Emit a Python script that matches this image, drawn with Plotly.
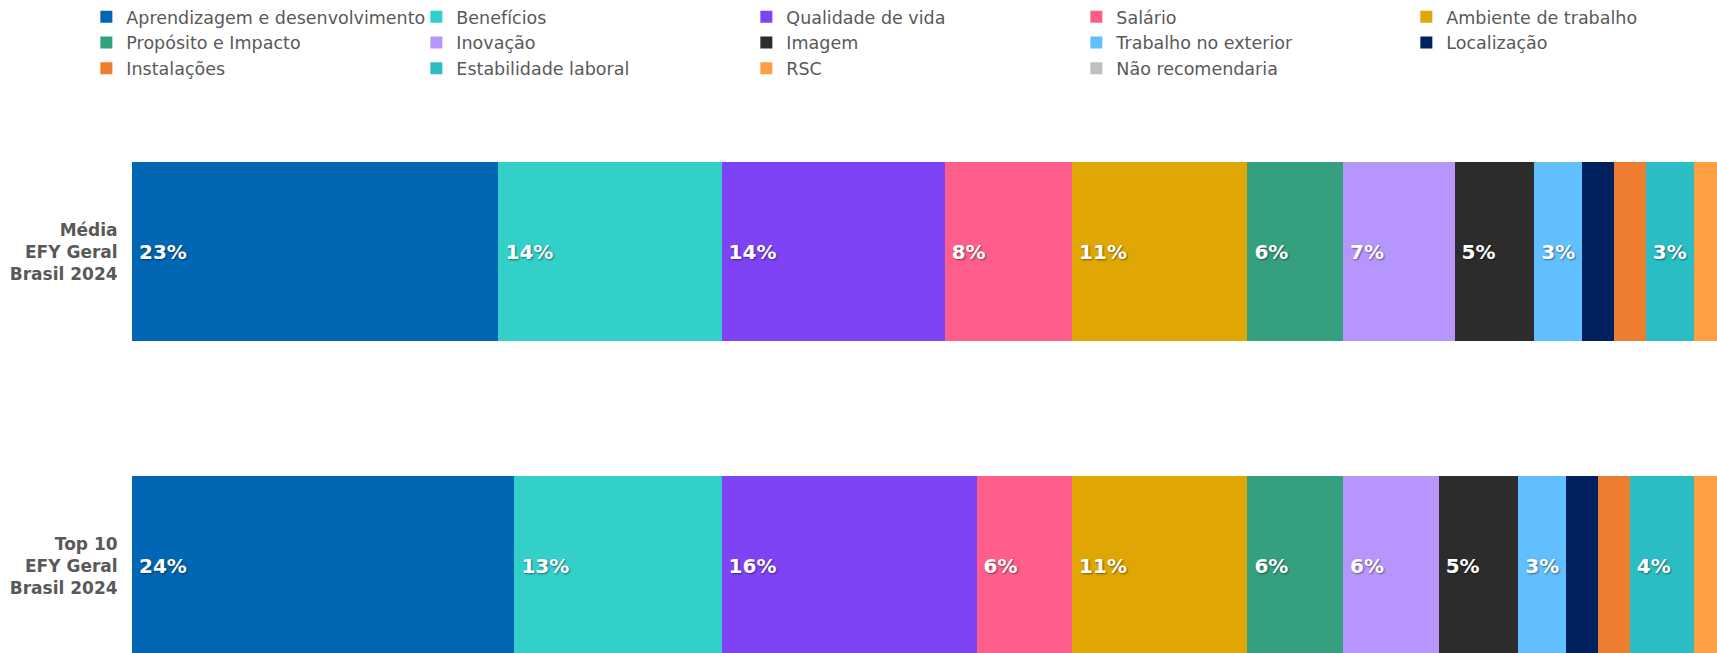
import plotly.graph_objects as go

categories = ["Média<br>EFY Geral<br>Brasil 2024", "Top 10<br>EFY Geral<br>Brasil 2024"]

series_names = [
    "Aprendizagem e desenvolvimento", "Benefícios", "Qualidade de vida", "Salário",
    "Ambiente de trabalho", "Propósito e Impacto", "Inovação", "Imagem",
    "Trabalho no exterior", "Localização", "Instalações", "Estabilidade laboral",
    "RSC", "Não recomendaria",
]
series_colors = [
    "#0167B4", "#33CFC9", "#7E43F4", "#FF5E8B",
    "#E0A603", "#35A07F", "#B696FD", "#2C2C2C",
    "#62BFFE", "#002060", "#ED7D31", "#2ABEC4",
    "#FF9E42", "#BFBFBF",
]
media_values = [23, 14, 14, 8, 11, 6, 7, 5, 3, 2, 2, 3, 2, 0]
top10_values = [24, 13, 16, 6, 11, 6, 6, 5, 3, 2, 2, 4, 2, 0]

FONT = "DejaVu Sans"
GRAY = "#595959"
LABEL_MIN = 3

fig = go.Figure()
for name, color, a, b in zip(series_names, series_colors, media_values, top10_values):
    vals = [a, b]
    texts = [("\u2009%d%%" % v) if v >= LABEL_MIN else "" for v in vals]
    fig.add_trace(go.Bar(
        y=categories, x=vals, orientation="h", name=name,
        marker=dict(color=color, line=dict(width=0)),
        text=texts, textposition="inside", insidetextanchor="start",
        constraintext="none",
        textfont=dict(family=FONT, size=20, color="white", weight="bold",
                      shadow="1px 1px 2px rgba(0,0,0,0.45)"),
        hoverinfo="name+x",
    ))

fig.update_layout(
    barmode="stack",
    bargap=0.43,
    width=1717, height=653,
    margin=dict(l=132, r=0, t=100, b=0, autoexpand=False),
    paper_bgcolor="white", plot_bgcolor="white",
    font=dict(family=FONT, color=GRAY),
    showlegend=True,
    legend=dict(
        orientation="h", x=-0.0288, xanchor="left", y=1.183, yanchor="top",
        entrywidth=285, entrywidthmode="pixels", itemwidth=30,
        font=dict(family=FONT, size=17.5, color=GRAY),
        traceorder="normal", bgcolor="rgba(0,0,0,0)",
    ),
    xaxis=dict(visible=False, range=[0, 99.47], fixedrange=True),
    yaxis=dict(
        categoryorder="array", categoryarray=categories,
        range=[1.2776, -0.483],
        showgrid=False, zeroline=False, showline=False,
        ticks="outside", ticklen=10, tickcolor="rgba(0,0,0,0)",
        tickfont=dict(family=FONT, size=17, color=GRAY, weight="bold"),
        fixedrange=True,
    ),
)

fig.write_html(
    "out.html",
    config={"displayModeBar": False},
    post_script="document.body.style.margin='0';document.body.style.overflow='hidden';",
)
